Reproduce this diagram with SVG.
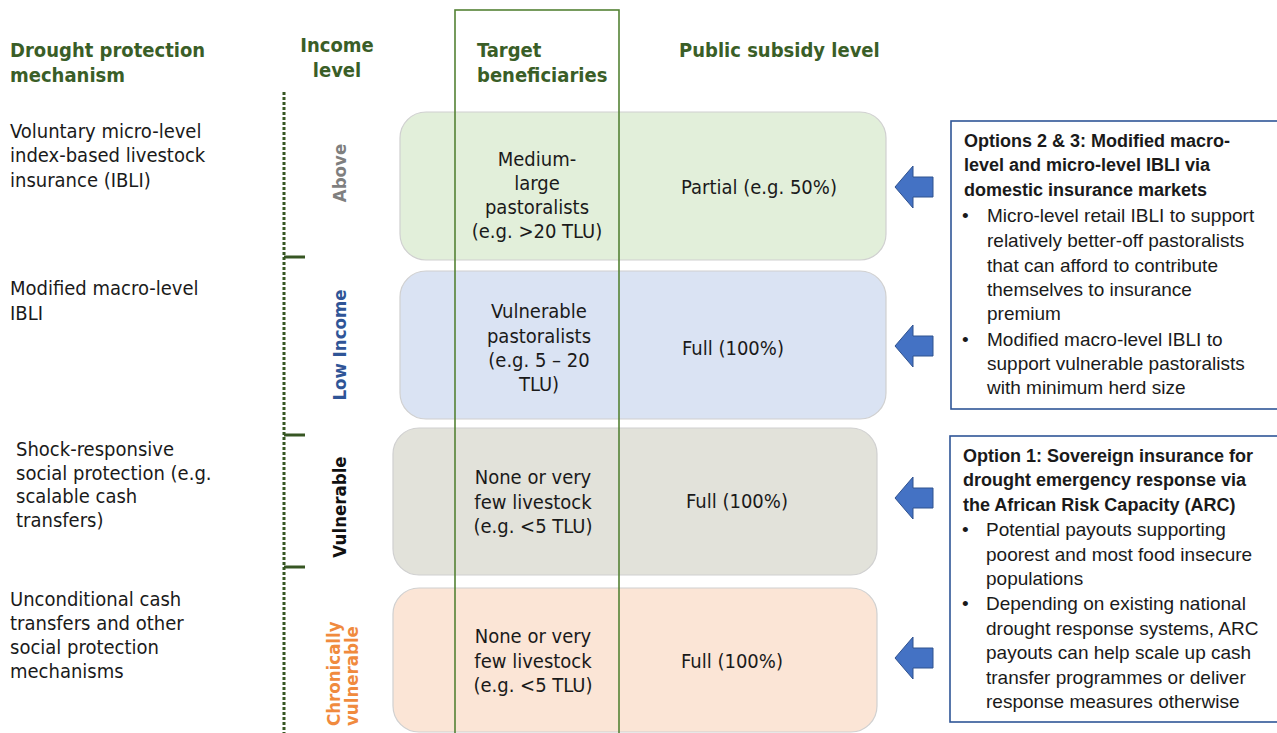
<svg xmlns="http://www.w3.org/2000/svg" width="1277" height="733" viewBox="0 0 1277 733">
  <style>
    .hd { font-family: "DejaVu Sans Condensed", "DejaVu Sans", sans-serif; font-stretch: condensed; font-weight: bold; font-size: 20px; fill: #3a5e27; }
    .tx { font-family: "DejaVu Sans Condensed", "DejaVu Sans", sans-serif; font-stretch: condensed; font-size: 20px; fill: #1a1a1a; }
    .mid { text-anchor: middle; }
    .rot { font-family: "DejaVu Sans Condensed", "DejaVu Sans", sans-serif; font-stretch: condensed; font-weight: bold; font-size: 18.5px; }
    .opt { font-family: "Liberation Sans", Arial, sans-serif; font-size: 19px; fill: #1a1a1a; }
    .optb { font-weight: bold; font-size: 18px; }
    .row { stroke: #d0d0d0; stroke-width: 1.2; }
    .arrow { fill: #4472c4; stroke: #2f528f; stroke-width: 1; }
    .optbox { fill: #ffffff; stroke: #2f5597; stroke-width: 1.6; }
  </style>
  <defs>
    <path id="blockArrow" d="M0,0 L18,-21 L18,-10 L38,-10 L38,10 L18,10 L18,21 Z"/>
  </defs>
  <rect width="1277" height="733" fill="#ffffff"/>

  <!-- column headings -->
  <g id="headings">
    <text class="hd" x="10" y="57">Drought protection</text>
    <text class="hd" x="10" y="82">mechanism</text>
    <text class="hd mid" x="337" y="52">Income</text>
    <text class="hd mid" x="337" y="77">level</text>
    <text class="hd" x="477" y="57">Target</text>
    <text class="hd" x="477" y="82">beneficiaries</text>
    <text class="hd" x="679" y="57">Public subsidy level</text>
  </g>

  <!-- income level scale -->
  <g id="income-scale" stroke="#375623">
    <line x1="284" y1="92" x2="284" y2="733" stroke-width="3" stroke-dasharray="3 2"/>
    <line x1="284" y1="257" x2="305" y2="257" stroke-width="3"/>
    <line x1="284" y1="435" x2="305" y2="435" stroke-width="3"/>
    <line x1="284" y1="567" x2="305" y2="567" stroke-width="3"/>
  </g>

  <!-- rotated income level labels -->
  <g id="income-labels">
    <text class="rot mid" fill="#7f7f7f" transform="translate(346,173) rotate(-90)">Above</text>
    <text class="rot mid" fill="#2f5597" font-size="20" transform="translate(346,345) rotate(-90)">Low Income</text>
    <text class="rot mid" fill="#111111" transform="translate(346,507) rotate(-90)">Vulnerable</text>
    <text class="rot" fill="#f08a3e" transform="translate(340,726) rotate(-90)">Chronically</text>
    <text class="rot" fill="#f08a3e" transform="translate(358,726) rotate(-90)">vulnerable</text>
  </g>

  <!-- mechanism descriptions -->
  <g id="mechanisms">
    <text class="tx" x="10" y="138">Voluntary micro-level</text>
    <text class="tx" x="10" y="162">index-based livestock</text>
    <text class="tx" x="10" y="187">insurance (IBLI)</text>
    <text class="tx" x="10" y="295">Modified macro-level</text>
    <text class="tx" x="10" y="320">IBLI</text>
    <text class="tx" x="16" y="456">Shock-responsive</text>
    <text class="tx" x="16" y="480">social protection (e.g.</text>
    <text class="tx" x="16" y="503">scalable cash</text>
    <text class="tx" x="16" y="527">transfers)</text>
    <text class="tx" x="10" y="606">Unconditional cash</text>
    <text class="tx" x="10" y="630">transfers and other</text>
    <text class="tx" x="10" y="654">social protection</text>
    <text class="tx" x="10" y="678">mechanisms</text>
  </g>

  <!-- income rows -->
  <g id="row-above">
    <rect class="row" x="400" y="112" width="486" height="148" rx="26" fill="#e2efda"/>
    <text class="tx mid" x="537" y="166">Medium-</text>
    <text class="tx mid" x="537" y="190">large</text>
    <text class="tx mid" x="537" y="214">pastoralists</text>
    <text class="tx mid" x="537" y="238">(e.g. &gt;20 TLU)</text>
    <text class="tx mid" x="759" y="194">Partial (e.g. 50%)</text>
  </g>
  <g id="row-low-income">
    <rect class="row" x="400" y="271" width="486" height="148" rx="26" fill="#dae3f3"/>
    <text class="tx mid" x="539" y="318">Vulnerable</text>
    <text class="tx mid" x="539" y="343">pastoralists</text>
    <text class="tx mid" x="539" y="367">(e.g. 5 – 20</text>
    <text class="tx mid" x="539" y="391">TLU)</text>
    <text class="tx mid" x="733" y="355">Full (100%)</text>
  </g>
  <g id="row-vulnerable">
    <rect class="row" x="393" y="428" width="484" height="147" rx="26" fill="#e2e2da"/>
    <text class="tx mid" x="533" y="484">None or very</text>
    <text class="tx mid" x="533" y="509">few livestock</text>
    <text class="tx mid" x="533" y="533">(e.g. &lt;5 TLU)</text>
    <text class="tx mid" x="737" y="508">Full (100%)</text>
  </g>
  <g id="row-chronic">
    <rect class="row" x="393" y="588" width="484" height="144" rx="26" fill="#fbe5d6"/>
    <text class="tx mid" x="533" y="643">None or very</text>
    <text class="tx mid" x="533" y="668">few livestock</text>
    <text class="tx mid" x="533" y="692">(e.g. &lt;5 TLU)</text>
    <text class="tx mid" x="732" y="668">Full (100%)</text>
  </g>

  <!-- target beneficiaries column frame -->
  <g id="target-column">
    <rect x="455" y="10" width="164" height="730" fill="none" stroke="#548235" stroke-width="1.6"/>
  </g>

  <!-- arrows from the options -->
  <g id="connectors">
    <use href="#blockArrow" class="arrow" x="895" y="187"/>
    <use href="#blockArrow" class="arrow" x="895" y="346"/>
    <use href="#blockArrow" class="arrow" x="895" y="498"/>
    <use href="#blockArrow" class="arrow" x="895" y="658"/>
  </g>

  <!-- option boxes -->
  <g id="options-2-3">
    <rect class="optbox" x="951" y="121" width="330" height="288"/>
    <text class="opt optb" x="964" y="147">Options 2 &amp; 3: Modified macro-</text>
    <text class="opt optb" x="964" y="171">level and micro-level IBLI via</text>
    <text class="opt optb" x="964" y="196">domestic insurance markets</text>
    <text class="opt" x="962" y="222">•</text>
    <text class="opt" x="987" y="222">Micro-level retail IBLI to support</text>
    <text class="opt" x="987" y="247">relatively better-off pastoralists</text>
    <text class="opt" x="987" y="272">that can afford to contribute</text>
    <text class="opt" x="987" y="296">themselves to insurance</text>
    <text class="opt" x="987" y="320">premium</text>
    <text class="opt" x="962" y="346">•</text>
    <text class="opt" x="987" y="346">Modified macro-level IBLI to</text>
    <text class="opt" x="987" y="370">support vulnerable pastoralists</text>
    <text class="opt" x="987" y="394">with minimum herd size</text>
  </g>
  <g id="option-1">
    <rect class="optbox" x="950" y="436" width="331" height="286"/>
    <text class="opt optb" x="963" y="462">Option 1: Sovereign insurance for</text>
    <text class="opt optb" x="963" y="486">drought emergency response via</text>
    <text class="opt optb" x="963" y="511">the African Risk Capacity (ARC)</text>
    <text class="opt" x="962" y="536">•</text>
    <text class="opt" x="986" y="536">Potential payouts supporting</text>
    <text class="opt" x="986" y="561">poorest and most food insecure</text>
    <text class="opt" x="986" y="585">populations</text>
    <text class="opt" x="962" y="610">•</text>
    <text class="opt" x="986" y="610">Depending on existing national</text>
    <text class="opt" x="986" y="635">drought response systems, ARC</text>
    <text class="opt" x="986" y="659">payouts can help scale up cash</text>
    <text class="opt" x="986" y="684">transfer programmes or deliver</text>
    <text class="opt" x="986" y="708">response measures otherwise</text>
  </g>
</svg>
